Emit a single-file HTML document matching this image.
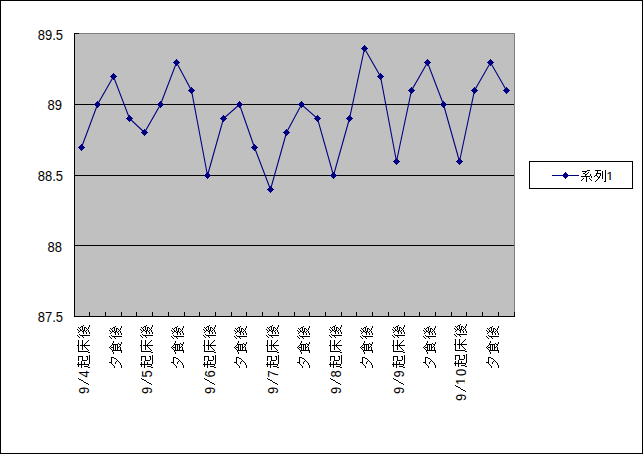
<!DOCTYPE html>
<html><head><meta charset="utf-8"><title>chart</title>
<style>
html,body{margin:0;padding:0;background:#fff;width:643px;height:454px;overflow:hidden}
svg{display:block}
.t{font-family:"Liberation Sans",sans-serif;font-size:13px;fill:#000}
</style></head><body>
<svg width="643" height="454" viewBox="0 0 643 454" shape-rendering="crispEdges">
<defs><clipPath id="nb"><rect x="-10" y="-14" width="20" height="12.9"/></clipPath><clipPath id="nb2"><rect x="600" y="160" width="20" height="19.9"/></clipPath></defs>
<rect x="0" y="0" width="643" height="454" fill="#fff"/>
<path d="M0 0h643v1H0zM0 453h643v1H0zM0 0h1v454H0zM642 0h1v454h-1z" fill="#000"/>
<rect x="75" y="34" width="439" height="282" fill="#c0c0c0"/>
<path d="M74 33h441v1H74zM514 33h1v284h-1z" fill="#808080"/>
<path d="M74 33h1v284h-1zM74 316h441v1H74zM74 33h5v1h-5zM75 104h439v1H75zM75 175h439v1H75zM75 245h439v1H75zM89 312h1v4h-1zM105 312h1v4h-1zM121 312h1v4h-1zM136 312h1v4h-1zM152 312h1v4h-1zM168 312h1v4h-1zM184 312h1v4h-1zM199 312h1v4h-1zM215 312h1v4h-1zM231 312h1v4h-1zM246 312h1v4h-1zM262 312h1v4h-1zM278 312h1v4h-1zM294 312h1v4h-1zM309 312h1v4h-1zM325 312h1v4h-1zM341 312h1v4h-1zM356 312h1v4h-1zM372 312h1v4h-1zM388 312h1v4h-1zM404 312h1v4h-1zM419 312h1v4h-1zM435 312h1v4h-1zM451 312h1v4h-1zM466 312h1v4h-1zM482 312h1v4h-1zM498 312h1v4h-1zM514 312h1v4h-1z" fill="#000"/>
<polyline fill="none" stroke="#000080" stroke-width="1.1" shape-rendering="geometricPrecision" points="81.5,147.5 97.5,104.5 113.5,76.5 129.5,118.5 144.5,132.5 160.5,104.5 176.5,62.5 191.5,90.5 207.5,175.5 223.5,118.5 239.5,104.5 254.5,147.5 270.5,189.5 286.5,132.5 301.5,104.5 317.5,118.5 333.5,175.5 349.5,118.5 364.5,48.5 380.5,76.5 396.5,161.5 411.5,90.5 427.5,62.5 443.5,104.5 459.5,161.5 474.5,90.5 490.5,62.5 506.5,90.5"/>
<path d="M81 144h1v1h-1zM80 145h3v1h-3zM79 146h5v1h-5zM78 147h7v1h-7zM79 148h5v1h-5zM80 149h3v1h-3zM81 150h1v1h-1zM97 101h1v1h-1zM96 102h3v1h-3zM95 103h5v1h-5zM94 104h7v1h-7zM95 105h5v1h-5zM96 106h3v1h-3zM97 107h1v1h-1zM113 73h1v1h-1zM112 74h3v1h-3zM111 75h5v1h-5zM110 76h7v1h-7zM111 77h5v1h-5zM112 78h3v1h-3zM113 79h1v1h-1zM129 115h1v1h-1zM128 116h3v1h-3zM127 117h5v1h-5zM126 118h7v1h-7zM127 119h5v1h-5zM128 120h3v1h-3zM129 121h1v1h-1zM144 129h1v1h-1zM143 130h3v1h-3zM142 131h5v1h-5zM141 132h7v1h-7zM142 133h5v1h-5zM143 134h3v1h-3zM144 135h1v1h-1zM160 101h1v1h-1zM159 102h3v1h-3zM158 103h5v1h-5zM157 104h7v1h-7zM158 105h5v1h-5zM159 106h3v1h-3zM160 107h1v1h-1zM176 59h1v1h-1zM175 60h3v1h-3zM174 61h5v1h-5zM173 62h7v1h-7zM174 63h5v1h-5zM175 64h3v1h-3zM176 65h1v1h-1zM191 87h1v1h-1zM190 88h3v1h-3zM189 89h5v1h-5zM188 90h7v1h-7zM189 91h5v1h-5zM190 92h3v1h-3zM191 93h1v1h-1zM207 172h1v1h-1zM206 173h3v1h-3zM205 174h5v1h-5zM204 175h7v1h-7zM205 176h5v1h-5zM206 177h3v1h-3zM207 178h1v1h-1zM223 115h1v1h-1zM222 116h3v1h-3zM221 117h5v1h-5zM220 118h7v1h-7zM221 119h5v1h-5zM222 120h3v1h-3zM223 121h1v1h-1zM239 101h1v1h-1zM238 102h3v1h-3zM237 103h5v1h-5zM236 104h7v1h-7zM237 105h5v1h-5zM238 106h3v1h-3zM239 107h1v1h-1zM254 144h1v1h-1zM253 145h3v1h-3zM252 146h5v1h-5zM251 147h7v1h-7zM252 148h5v1h-5zM253 149h3v1h-3zM254 150h1v1h-1zM270 186h1v1h-1zM269 187h3v1h-3zM268 188h5v1h-5zM267 189h7v1h-7zM268 190h5v1h-5zM269 191h3v1h-3zM270 192h1v1h-1zM286 129h1v1h-1zM285 130h3v1h-3zM284 131h5v1h-5zM283 132h7v1h-7zM284 133h5v1h-5zM285 134h3v1h-3zM286 135h1v1h-1zM301 101h1v1h-1zM300 102h3v1h-3zM299 103h5v1h-5zM298 104h7v1h-7zM299 105h5v1h-5zM300 106h3v1h-3zM301 107h1v1h-1zM317 115h1v1h-1zM316 116h3v1h-3zM315 117h5v1h-5zM314 118h7v1h-7zM315 119h5v1h-5zM316 120h3v1h-3zM317 121h1v1h-1zM333 172h1v1h-1zM332 173h3v1h-3zM331 174h5v1h-5zM330 175h7v1h-7zM331 176h5v1h-5zM332 177h3v1h-3zM333 178h1v1h-1zM349 115h1v1h-1zM348 116h3v1h-3zM347 117h5v1h-5zM346 118h7v1h-7zM347 119h5v1h-5zM348 120h3v1h-3zM349 121h1v1h-1zM364 45h1v1h-1zM363 46h3v1h-3zM362 47h5v1h-5zM361 48h7v1h-7zM362 49h5v1h-5zM363 50h3v1h-3zM364 51h1v1h-1zM380 73h1v1h-1zM379 74h3v1h-3zM378 75h5v1h-5zM377 76h7v1h-7zM378 77h5v1h-5zM379 78h3v1h-3zM380 79h1v1h-1zM396 158h1v1h-1zM395 159h3v1h-3zM394 160h5v1h-5zM393 161h7v1h-7zM394 162h5v1h-5zM395 163h3v1h-3zM396 164h1v1h-1zM411 87h1v1h-1zM410 88h3v1h-3zM409 89h5v1h-5zM408 90h7v1h-7zM409 91h5v1h-5zM410 92h3v1h-3zM411 93h1v1h-1zM427 59h1v1h-1zM426 60h3v1h-3zM425 61h5v1h-5zM424 62h7v1h-7zM425 63h5v1h-5zM426 64h3v1h-3zM427 65h1v1h-1zM443 101h1v1h-1zM442 102h3v1h-3zM441 103h5v1h-5zM440 104h7v1h-7zM441 105h5v1h-5zM442 106h3v1h-3zM443 107h1v1h-1zM459 158h1v1h-1zM458 159h3v1h-3zM457 160h5v1h-5zM456 161h7v1h-7zM457 162h5v1h-5zM458 163h3v1h-3zM459 164h1v1h-1zM474 87h1v1h-1zM473 88h3v1h-3zM472 89h5v1h-5zM471 90h7v1h-7zM472 91h5v1h-5zM473 92h3v1h-3zM474 93h1v1h-1zM490 59h1v1h-1zM489 60h3v1h-3zM488 61h5v1h-5zM487 62h7v1h-7zM488 63h5v1h-5zM489 64h3v1h-3zM490 65h1v1h-1zM506 87h1v1h-1zM505 88h3v1h-3zM504 89h5v1h-5zM503 90h7v1h-7zM504 91h5v1h-5zM505 92h3v1h-3zM506 93h1v1h-1z" fill="#000080"/>
<text transform="translate(63,40) scale(1,1.1)" text-anchor="end" class="t">89.5</text>
<text transform="translate(62,110) scale(1,1.1)" text-anchor="end" class="t">89</text>
<text transform="translate(63,181) scale(1,1.1)" text-anchor="end" class="t">88.5</text>
<text transform="translate(62,252) scale(1,1.1)" text-anchor="end" class="t">88</text>
<text transform="translate(63,322) scale(1,1.1)" text-anchor="end" class="t">87.5</text>
<rect x="530" y="162" width="102" height="26" fill="#fff"/>
<path d="M529 161h104v1h-104zM529 188h104v1h-104zM529 161h1v28h-1zM632 161h1v28h-1z" fill="#000"/>
<path d="M552 175h27v1h-27zM565 172h1v1h-1zM564 173h3v1h-3zM563 174h5v1h-5zM562 175h7v1h-7zM563 176h5v1h-5zM564 177h3v1h-3zM565 178h1v1h-1z" fill="#000080"/>
<g role="img" aria-label="系列1"><path d="M587 170h3v1h-3zM582 171h5v1h-5zM585 172h1v1h-1zM588 172h1v1h-1zM583 173h2v1h-2zM587 173h1v1h-1zM585 174h2v1h-2zM590 174h1v1h-1zM585 175h1v1h-1zM590 175h1v1h-1zM581 176h9v1h-9zM591 176h1v1h-1zM586 177h1v1h-1zM591 177h1v1h-1zM583 178h1v1h-1zM586 178h1v1h-1zM589 178h1v1h-1zM582 179h1v1h-1zM586 179h1v1h-1zM590 179h1v1h-1zM581 180h1v1h-1zM586 180h1v1h-1zM591 180h1v1h-1zM586 181h1v1h-1zM595 170h6v1h-6zM605 170h1v1h-1zM597 171h1v1h-1zM602 171h1v1h-1zM605 171h1v1h-1zM597 172h1v1h-1zM602 172h1v1h-1zM605 172h1v1h-1zM596 173h5v1h-5zM602 173h1v1h-1zM605 173h1v1h-1zM596 174h1v1h-1zM600 174h1v1h-1zM602 174h1v1h-1zM605 174h1v1h-1zM595 175h2v1h-2zM600 175h1v1h-1zM602 175h1v1h-1zM605 175h1v1h-1zM594 176h1v1h-1zM597 176h1v1h-1zM599 176h1v1h-1zM602 176h1v1h-1zM605 176h1v1h-1zM598 177h2v1h-2zM602 177h1v1h-1zM605 177h1v1h-1zM598 178h1v1h-1zM602 178h1v1h-1zM605 178h1v1h-1zM597 179h1v1h-1zM605 179h1v1h-1zM596 180h1v1h-1zM605 180h1v1h-1zM595 181h1v1h-1zM604 181h2v1h-2z" fill="#000"/><text x="606.3" y="181" class="t" clip-path="url(#nb2)">1</text></g>
<g role="img" aria-label="9/4起床後"><path d="M89 355h1v1h-1zM78 356h5v1h-5zM86 356h2v1h-2zM89 356h1v1h-1zM78 357h1v1h-1zM82 357h1v1h-1zM87 357h1v1h-1zM89 357h1v1h-1zM78 358h1v1h-1zM82 358h1v1h-1zM87 358h1v1h-1zM89 358h1v1h-1zM78 359h1v1h-1zM82 359h1v1h-1zM87 359h1v1h-1zM89 359h1v1h-1zM78 360h1v1h-1zM82 360h5v1h-5zM89 360h1v1h-1zM81 361h1v1h-1zM89 361h1v1h-1zM78 362h1v1h-1zM81 362h1v1h-1zM84 362h1v1h-1zM89 362h1v1h-1zM78 363h1v1h-1zM81 363h1v1h-1zM84 363h1v1h-1zM89 363h1v1h-1zM77 364h12v1h-12zM78 365h1v1h-1zM81 365h1v1h-1zM88 365h1v1h-1zM78 366h1v1h-1zM81 366h1v1h-1zM84 366h4v1h-4zM81 367h1v1h-1zM88 367h2v1h-2zM78 340h1v1h-1zM82 340h1v1h-1zM88 340h1v1h-1zM78 341h1v1h-1zM82 341h1v1h-1zM87 341h1v1h-1zM78 342h1v1h-1zM82 342h1v1h-1zM86 342h1v1h-1zM78 343h1v1h-1zM82 343h1v1h-1zM85 343h1v1h-1zM78 344h1v1h-1zM82 344h1v1h-1zM84 344h1v1h-1zM77 345h2v1h-2zM80 345h10v1h-10zM78 346h1v1h-1zM82 346h1v1h-1zM84 346h1v1h-1zM78 347h1v1h-1zM82 347h1v1h-1zM85 347h1v1h-1zM78 348h1v1h-1zM82 348h1v1h-1zM86 348h1v1h-1zM78 349h1v1h-1zM82 349h1v1h-1zM87 349h1v1h-1zM78 350h1v1h-1zM88 350h1v1h-1zM78 351h10v1h-10zM88 352h2v1h-2zM83 325h1v1h-1zM89 325h1v1h-1zM81 326h2v1h-2zM89 326h1v1h-1zM78 327h1v1h-1zM80 327h1v1h-1zM82 327h1v1h-1zM84 327h2v1h-2zM88 327h1v1h-1zM79 328h1v1h-1zM82 328h1v1h-1zM84 328h1v1h-1zM86 328h1v1h-1zM88 328h1v1h-1zM77 329h1v1h-1zM80 329h1v1h-1zM82 329h1v1h-1zM84 329h1v1h-1zM87 329h1v1h-1zM78 330h1v1h-1zM80 330h2v1h-2zM83 330h2v1h-2zM86 330h1v1h-1zM88 330h1v1h-1zM79 331h1v1h-1zM82 331h2v1h-2zM85 331h1v1h-1zM88 331h1v1h-1zM78 332h1v1h-1zM83 332h1v1h-1zM86 332h1v1h-1zM89 332h1v1h-1zM83 333h1v1h-1zM86 333h1v1h-1zM89 333h1v1h-1zM79 334h1v1h-1zM77 335h1v1h-1zM80 335h10v1h-10zM78 336h1v1h-1zM82 336h1v1h-1zM79 337h1v1h-1zM83 337h1v1h-1zM78 378h1v1h-1zM79 379h2v1h-2zM81 380h2v1h-2zM83 381h1v1h-1zM84 382h2v1h-2zM86 383h2v1h-2zM88 384h1v1h-1z" fill="#000"/><text transform="translate(89,390.5) rotate(-90) scale(1,1.1)" text-anchor="middle" class="t">9</text><text transform="translate(89,374.0) rotate(-90) scale(1,1.1)" text-anchor="middle" class="t">4</text></g>
<g role="img" aria-label="夕食後"><path d="M111 357h3v1h-3zM111 358h1v1h-1zM114 358h2v1h-2zM111 359h1v1h-1zM116 359h1v1h-1zM111 360h1v1h-1zM117 360h1v1h-1zM111 361h1v1h-1zM116 361h1v1h-1zM118 361h1v1h-1zM109 362h3v1h-3zM115 362h1v1h-1zM119 362h1v1h-1zM111 363h1v1h-1zM115 363h1v1h-1zM120 363h1v1h-1zM112 364h1v1h-1zM120 364h1v1h-1zM113 365h1v1h-1zM121 365h1v1h-1zM114 366h1v1h-1zM121 366h1v1h-1zM114 367h1v1h-1zM121 367h1v1h-1zM113 341h1v1h-1zM113 342h1v1h-1zM121 342h1v1h-1zM112 343h1v1h-1zM118 343h1v1h-1zM121 343h1v1h-1zM112 344h6v1h-6zM119 344h2v1h-2zM111 345h1v1h-1zM113 345h1v1h-1zM115 345h1v1h-1zM117 345h1v1h-1zM120 345h1v1h-1zM110 346h1v1h-1zM113 346h1v1h-1zM115 346h1v1h-1zM117 346h1v1h-1zM119 346h1v1h-1zM109 347h1v1h-1zM111 347h3v1h-3zM115 347h1v1h-1zM117 347h2v1h-2zM120 347h1v1h-1zM110 348h1v1h-1zM113 348h1v1h-1zM115 348h1v1h-1zM117 348h1v1h-1zM120 348h1v1h-1zM111 349h1v1h-1zM113 349h1v1h-1zM115 349h1v1h-1zM117 349h1v1h-1zM120 349h1v1h-1zM112 350h10v1h-10zM112 351h1v1h-1zM121 351h1v1h-1zM113 352h1v1h-1zM121 352h1v1h-1zM113 353h1v1h-1zM115 326h1v1h-1zM121 326h1v1h-1zM113 327h2v1h-2zM121 327h1v1h-1zM110 328h1v1h-1zM112 328h1v1h-1zM114 328h1v1h-1zM116 328h2v1h-2zM120 328h1v1h-1zM111 329h1v1h-1zM114 329h1v1h-1zM116 329h1v1h-1zM118 329h1v1h-1zM120 329h1v1h-1zM109 330h1v1h-1zM112 330h1v1h-1zM114 330h1v1h-1zM116 330h1v1h-1zM119 330h1v1h-1zM110 331h1v1h-1zM112 331h2v1h-2zM115 331h2v1h-2zM118 331h1v1h-1zM120 331h1v1h-1zM111 332h1v1h-1zM114 332h2v1h-2zM117 332h1v1h-1zM120 332h1v1h-1zM110 333h1v1h-1zM115 333h1v1h-1zM118 333h1v1h-1zM121 333h1v1h-1zM115 334h1v1h-1zM118 334h1v1h-1zM121 334h1v1h-1zM111 335h1v1h-1zM109 336h1v1h-1zM112 336h10v1h-10zM110 337h1v1h-1zM114 337h1v1h-1zM111 338h1v1h-1zM115 338h1v1h-1z" fill="#000"/></g>
<g role="img" aria-label="9/5起床後"><path d="M152 355h1v1h-1zM141 356h5v1h-5zM149 356h2v1h-2zM152 356h1v1h-1zM141 357h1v1h-1zM145 357h1v1h-1zM150 357h1v1h-1zM152 357h1v1h-1zM141 358h1v1h-1zM145 358h1v1h-1zM150 358h1v1h-1zM152 358h1v1h-1zM141 359h1v1h-1zM145 359h1v1h-1zM150 359h1v1h-1zM152 359h1v1h-1zM141 360h1v1h-1zM145 360h5v1h-5zM152 360h1v1h-1zM144 361h1v1h-1zM152 361h1v1h-1zM141 362h1v1h-1zM144 362h1v1h-1zM147 362h1v1h-1zM152 362h1v1h-1zM141 363h1v1h-1zM144 363h1v1h-1zM147 363h1v1h-1zM152 363h1v1h-1zM140 364h12v1h-12zM141 365h1v1h-1zM144 365h1v1h-1zM151 365h1v1h-1zM141 366h1v1h-1zM144 366h1v1h-1zM147 366h4v1h-4zM144 367h1v1h-1zM151 367h2v1h-2zM141 340h1v1h-1zM145 340h1v1h-1zM151 340h1v1h-1zM141 341h1v1h-1zM145 341h1v1h-1zM150 341h1v1h-1zM141 342h1v1h-1zM145 342h1v1h-1zM149 342h1v1h-1zM141 343h1v1h-1zM145 343h1v1h-1zM148 343h1v1h-1zM141 344h1v1h-1zM145 344h1v1h-1zM147 344h1v1h-1zM140 345h2v1h-2zM143 345h10v1h-10zM141 346h1v1h-1zM145 346h1v1h-1zM147 346h1v1h-1zM141 347h1v1h-1zM145 347h1v1h-1zM148 347h1v1h-1zM141 348h1v1h-1zM145 348h1v1h-1zM149 348h1v1h-1zM141 349h1v1h-1zM145 349h1v1h-1zM150 349h1v1h-1zM141 350h1v1h-1zM151 350h1v1h-1zM141 351h10v1h-10zM151 352h2v1h-2zM146 325h1v1h-1zM152 325h1v1h-1zM144 326h2v1h-2zM152 326h1v1h-1zM141 327h1v1h-1zM143 327h1v1h-1zM145 327h1v1h-1zM147 327h2v1h-2zM151 327h1v1h-1zM142 328h1v1h-1zM145 328h1v1h-1zM147 328h1v1h-1zM149 328h1v1h-1zM151 328h1v1h-1zM140 329h1v1h-1zM143 329h1v1h-1zM145 329h1v1h-1zM147 329h1v1h-1zM150 329h1v1h-1zM141 330h1v1h-1zM143 330h2v1h-2zM146 330h2v1h-2zM149 330h1v1h-1zM151 330h1v1h-1zM142 331h1v1h-1zM145 331h2v1h-2zM148 331h1v1h-1zM151 331h1v1h-1zM141 332h1v1h-1zM146 332h1v1h-1zM149 332h1v1h-1zM152 332h1v1h-1zM146 333h1v1h-1zM149 333h1v1h-1zM152 333h1v1h-1zM142 334h1v1h-1zM140 335h1v1h-1zM143 335h10v1h-10zM141 336h1v1h-1zM145 336h1v1h-1zM142 337h1v1h-1zM146 337h1v1h-1zM141 378h1v1h-1zM142 379h2v1h-2zM144 380h2v1h-2zM146 381h1v1h-1zM147 382h2v1h-2zM149 383h2v1h-2zM151 384h1v1h-1z" fill="#000"/><text transform="translate(152,390.5) rotate(-90) scale(1,1.1)" text-anchor="middle" class="t">9</text><text transform="translate(152,374.0) rotate(-90) scale(1,1.1)" text-anchor="middle" class="t">5</text></g>
<g role="img" aria-label="夕食後"><path d="M173 357h3v1h-3zM173 358h1v1h-1zM176 358h2v1h-2zM173 359h1v1h-1zM178 359h1v1h-1zM173 360h1v1h-1zM179 360h1v1h-1zM173 361h1v1h-1zM178 361h1v1h-1zM180 361h1v1h-1zM171 362h3v1h-3zM177 362h1v1h-1zM181 362h1v1h-1zM173 363h1v1h-1zM177 363h1v1h-1zM182 363h1v1h-1zM174 364h1v1h-1zM182 364h1v1h-1zM175 365h1v1h-1zM183 365h1v1h-1zM176 366h1v1h-1zM183 366h1v1h-1zM176 367h1v1h-1zM183 367h1v1h-1zM175 341h1v1h-1zM175 342h1v1h-1zM183 342h1v1h-1zM174 343h1v1h-1zM180 343h1v1h-1zM183 343h1v1h-1zM174 344h6v1h-6zM181 344h2v1h-2zM173 345h1v1h-1zM175 345h1v1h-1zM177 345h1v1h-1zM179 345h1v1h-1zM182 345h1v1h-1zM172 346h1v1h-1zM175 346h1v1h-1zM177 346h1v1h-1zM179 346h1v1h-1zM181 346h1v1h-1zM171 347h1v1h-1zM173 347h3v1h-3zM177 347h1v1h-1zM179 347h2v1h-2zM182 347h1v1h-1zM172 348h1v1h-1zM175 348h1v1h-1zM177 348h1v1h-1zM179 348h1v1h-1zM182 348h1v1h-1zM173 349h1v1h-1zM175 349h1v1h-1zM177 349h1v1h-1zM179 349h1v1h-1zM182 349h1v1h-1zM174 350h10v1h-10zM174 351h1v1h-1zM183 351h1v1h-1zM175 352h1v1h-1zM183 352h1v1h-1zM175 353h1v1h-1zM177 326h1v1h-1zM183 326h1v1h-1zM175 327h2v1h-2zM183 327h1v1h-1zM172 328h1v1h-1zM174 328h1v1h-1zM176 328h1v1h-1zM178 328h2v1h-2zM182 328h1v1h-1zM173 329h1v1h-1zM176 329h1v1h-1zM178 329h1v1h-1zM180 329h1v1h-1zM182 329h1v1h-1zM171 330h1v1h-1zM174 330h1v1h-1zM176 330h1v1h-1zM178 330h1v1h-1zM181 330h1v1h-1zM172 331h1v1h-1zM174 331h2v1h-2zM177 331h2v1h-2zM180 331h1v1h-1zM182 331h1v1h-1zM173 332h1v1h-1zM176 332h2v1h-2zM179 332h1v1h-1zM182 332h1v1h-1zM172 333h1v1h-1zM177 333h1v1h-1zM180 333h1v1h-1zM183 333h1v1h-1zM177 334h1v1h-1zM180 334h1v1h-1zM183 334h1v1h-1zM173 335h1v1h-1zM171 336h1v1h-1zM174 336h10v1h-10zM172 337h1v1h-1zM176 337h1v1h-1zM173 338h1v1h-1zM177 338h1v1h-1z" fill="#000"/></g>
<g role="img" aria-label="9/6起床後"><path d="M215 355h1v1h-1zM204 356h5v1h-5zM212 356h2v1h-2zM215 356h1v1h-1zM204 357h1v1h-1zM208 357h1v1h-1zM213 357h1v1h-1zM215 357h1v1h-1zM204 358h1v1h-1zM208 358h1v1h-1zM213 358h1v1h-1zM215 358h1v1h-1zM204 359h1v1h-1zM208 359h1v1h-1zM213 359h1v1h-1zM215 359h1v1h-1zM204 360h1v1h-1zM208 360h5v1h-5zM215 360h1v1h-1zM207 361h1v1h-1zM215 361h1v1h-1zM204 362h1v1h-1zM207 362h1v1h-1zM210 362h1v1h-1zM215 362h1v1h-1zM204 363h1v1h-1zM207 363h1v1h-1zM210 363h1v1h-1zM215 363h1v1h-1zM203 364h12v1h-12zM204 365h1v1h-1zM207 365h1v1h-1zM214 365h1v1h-1zM204 366h1v1h-1zM207 366h1v1h-1zM210 366h4v1h-4zM207 367h1v1h-1zM214 367h2v1h-2zM204 340h1v1h-1zM208 340h1v1h-1zM214 340h1v1h-1zM204 341h1v1h-1zM208 341h1v1h-1zM213 341h1v1h-1zM204 342h1v1h-1zM208 342h1v1h-1zM212 342h1v1h-1zM204 343h1v1h-1zM208 343h1v1h-1zM211 343h1v1h-1zM204 344h1v1h-1zM208 344h1v1h-1zM210 344h1v1h-1zM203 345h2v1h-2zM206 345h10v1h-10zM204 346h1v1h-1zM208 346h1v1h-1zM210 346h1v1h-1zM204 347h1v1h-1zM208 347h1v1h-1zM211 347h1v1h-1zM204 348h1v1h-1zM208 348h1v1h-1zM212 348h1v1h-1zM204 349h1v1h-1zM208 349h1v1h-1zM213 349h1v1h-1zM204 350h1v1h-1zM214 350h1v1h-1zM204 351h10v1h-10zM214 352h2v1h-2zM209 325h1v1h-1zM215 325h1v1h-1zM207 326h2v1h-2zM215 326h1v1h-1zM204 327h1v1h-1zM206 327h1v1h-1zM208 327h1v1h-1zM210 327h2v1h-2zM214 327h1v1h-1zM205 328h1v1h-1zM208 328h1v1h-1zM210 328h1v1h-1zM212 328h1v1h-1zM214 328h1v1h-1zM203 329h1v1h-1zM206 329h1v1h-1zM208 329h1v1h-1zM210 329h1v1h-1zM213 329h1v1h-1zM204 330h1v1h-1zM206 330h2v1h-2zM209 330h2v1h-2zM212 330h1v1h-1zM214 330h1v1h-1zM205 331h1v1h-1zM208 331h2v1h-2zM211 331h1v1h-1zM214 331h1v1h-1zM204 332h1v1h-1zM209 332h1v1h-1zM212 332h1v1h-1zM215 332h1v1h-1zM209 333h1v1h-1zM212 333h1v1h-1zM215 333h1v1h-1zM205 334h1v1h-1zM203 335h1v1h-1zM206 335h10v1h-10zM204 336h1v1h-1zM208 336h1v1h-1zM205 337h1v1h-1zM209 337h1v1h-1zM204 378h1v1h-1zM205 379h2v1h-2zM207 380h2v1h-2zM209 381h1v1h-1zM210 382h2v1h-2zM212 383h2v1h-2zM214 384h1v1h-1z" fill="#000"/><text transform="translate(215,390.5) rotate(-90) scale(1,1.1)" text-anchor="middle" class="t">9</text><text transform="translate(215,374.0) rotate(-90) scale(1,1.1)" text-anchor="middle" class="t">6</text></g>
<g role="img" aria-label="夕食後"><path d="M236 357h3v1h-3zM236 358h1v1h-1zM239 358h2v1h-2zM236 359h1v1h-1zM241 359h1v1h-1zM236 360h1v1h-1zM242 360h1v1h-1zM236 361h1v1h-1zM241 361h1v1h-1zM243 361h1v1h-1zM234 362h3v1h-3zM240 362h1v1h-1zM244 362h1v1h-1zM236 363h1v1h-1zM240 363h1v1h-1zM245 363h1v1h-1zM237 364h1v1h-1zM245 364h1v1h-1zM238 365h1v1h-1zM246 365h1v1h-1zM239 366h1v1h-1zM246 366h1v1h-1zM239 367h1v1h-1zM246 367h1v1h-1zM238 341h1v1h-1zM238 342h1v1h-1zM246 342h1v1h-1zM237 343h1v1h-1zM243 343h1v1h-1zM246 343h1v1h-1zM237 344h6v1h-6zM244 344h2v1h-2zM236 345h1v1h-1zM238 345h1v1h-1zM240 345h1v1h-1zM242 345h1v1h-1zM245 345h1v1h-1zM235 346h1v1h-1zM238 346h1v1h-1zM240 346h1v1h-1zM242 346h1v1h-1zM244 346h1v1h-1zM234 347h1v1h-1zM236 347h3v1h-3zM240 347h1v1h-1zM242 347h2v1h-2zM245 347h1v1h-1zM235 348h1v1h-1zM238 348h1v1h-1zM240 348h1v1h-1zM242 348h1v1h-1zM245 348h1v1h-1zM236 349h1v1h-1zM238 349h1v1h-1zM240 349h1v1h-1zM242 349h1v1h-1zM245 349h1v1h-1zM237 350h10v1h-10zM237 351h1v1h-1zM246 351h1v1h-1zM238 352h1v1h-1zM246 352h1v1h-1zM238 353h1v1h-1zM240 326h1v1h-1zM246 326h1v1h-1zM238 327h2v1h-2zM246 327h1v1h-1zM235 328h1v1h-1zM237 328h1v1h-1zM239 328h1v1h-1zM241 328h2v1h-2zM245 328h1v1h-1zM236 329h1v1h-1zM239 329h1v1h-1zM241 329h1v1h-1zM243 329h1v1h-1zM245 329h1v1h-1zM234 330h1v1h-1zM237 330h1v1h-1zM239 330h1v1h-1zM241 330h1v1h-1zM244 330h1v1h-1zM235 331h1v1h-1zM237 331h2v1h-2zM240 331h2v1h-2zM243 331h1v1h-1zM245 331h1v1h-1zM236 332h1v1h-1zM239 332h2v1h-2zM242 332h1v1h-1zM245 332h1v1h-1zM235 333h1v1h-1zM240 333h1v1h-1zM243 333h1v1h-1zM246 333h1v1h-1zM240 334h1v1h-1zM243 334h1v1h-1zM246 334h1v1h-1zM236 335h1v1h-1zM234 336h1v1h-1zM237 336h10v1h-10zM235 337h1v1h-1zM239 337h1v1h-1zM236 338h1v1h-1zM240 338h1v1h-1z" fill="#000"/></g>
<g role="img" aria-label="9/7起床後"><path d="M278 355h1v1h-1zM267 356h5v1h-5zM275 356h2v1h-2zM278 356h1v1h-1zM267 357h1v1h-1zM271 357h1v1h-1zM276 357h1v1h-1zM278 357h1v1h-1zM267 358h1v1h-1zM271 358h1v1h-1zM276 358h1v1h-1zM278 358h1v1h-1zM267 359h1v1h-1zM271 359h1v1h-1zM276 359h1v1h-1zM278 359h1v1h-1zM267 360h1v1h-1zM271 360h5v1h-5zM278 360h1v1h-1zM270 361h1v1h-1zM278 361h1v1h-1zM267 362h1v1h-1zM270 362h1v1h-1zM273 362h1v1h-1zM278 362h1v1h-1zM267 363h1v1h-1zM270 363h1v1h-1zM273 363h1v1h-1zM278 363h1v1h-1zM266 364h12v1h-12zM267 365h1v1h-1zM270 365h1v1h-1zM277 365h1v1h-1zM267 366h1v1h-1zM270 366h1v1h-1zM273 366h4v1h-4zM270 367h1v1h-1zM277 367h2v1h-2zM267 340h1v1h-1zM271 340h1v1h-1zM277 340h1v1h-1zM267 341h1v1h-1zM271 341h1v1h-1zM276 341h1v1h-1zM267 342h1v1h-1zM271 342h1v1h-1zM275 342h1v1h-1zM267 343h1v1h-1zM271 343h1v1h-1zM274 343h1v1h-1zM267 344h1v1h-1zM271 344h1v1h-1zM273 344h1v1h-1zM266 345h2v1h-2zM269 345h10v1h-10zM267 346h1v1h-1zM271 346h1v1h-1zM273 346h1v1h-1zM267 347h1v1h-1zM271 347h1v1h-1zM274 347h1v1h-1zM267 348h1v1h-1zM271 348h1v1h-1zM275 348h1v1h-1zM267 349h1v1h-1zM271 349h1v1h-1zM276 349h1v1h-1zM267 350h1v1h-1zM277 350h1v1h-1zM267 351h10v1h-10zM277 352h2v1h-2zM272 325h1v1h-1zM278 325h1v1h-1zM270 326h2v1h-2zM278 326h1v1h-1zM267 327h1v1h-1zM269 327h1v1h-1zM271 327h1v1h-1zM273 327h2v1h-2zM277 327h1v1h-1zM268 328h1v1h-1zM271 328h1v1h-1zM273 328h1v1h-1zM275 328h1v1h-1zM277 328h1v1h-1zM266 329h1v1h-1zM269 329h1v1h-1zM271 329h1v1h-1zM273 329h1v1h-1zM276 329h1v1h-1zM267 330h1v1h-1zM269 330h2v1h-2zM272 330h2v1h-2zM275 330h1v1h-1zM277 330h1v1h-1zM268 331h1v1h-1zM271 331h2v1h-2zM274 331h1v1h-1zM277 331h1v1h-1zM267 332h1v1h-1zM272 332h1v1h-1zM275 332h1v1h-1zM278 332h1v1h-1zM272 333h1v1h-1zM275 333h1v1h-1zM278 333h1v1h-1zM268 334h1v1h-1zM266 335h1v1h-1zM269 335h10v1h-10zM267 336h1v1h-1zM271 336h1v1h-1zM268 337h1v1h-1zM272 337h1v1h-1zM267 378h1v1h-1zM268 379h2v1h-2zM270 380h2v1h-2zM272 381h1v1h-1zM273 382h2v1h-2zM275 383h2v1h-2zM277 384h1v1h-1z" fill="#000"/><text transform="translate(278,390.5) rotate(-90) scale(1,1.1)" text-anchor="middle" class="t">9</text><text transform="translate(278,374.0) rotate(-90) scale(1,1.1)" text-anchor="middle" class="t">7</text></g>
<g role="img" aria-label="夕食後"><path d="M299 357h3v1h-3zM299 358h1v1h-1zM302 358h2v1h-2zM299 359h1v1h-1zM304 359h1v1h-1zM299 360h1v1h-1zM305 360h1v1h-1zM299 361h1v1h-1zM304 361h1v1h-1zM306 361h1v1h-1zM297 362h3v1h-3zM303 362h1v1h-1zM307 362h1v1h-1zM299 363h1v1h-1zM303 363h1v1h-1zM308 363h1v1h-1zM300 364h1v1h-1zM308 364h1v1h-1zM301 365h1v1h-1zM309 365h1v1h-1zM302 366h1v1h-1zM309 366h1v1h-1zM302 367h1v1h-1zM309 367h1v1h-1zM301 341h1v1h-1zM301 342h1v1h-1zM309 342h1v1h-1zM300 343h1v1h-1zM306 343h1v1h-1zM309 343h1v1h-1zM300 344h6v1h-6zM307 344h2v1h-2zM299 345h1v1h-1zM301 345h1v1h-1zM303 345h1v1h-1zM305 345h1v1h-1zM308 345h1v1h-1zM298 346h1v1h-1zM301 346h1v1h-1zM303 346h1v1h-1zM305 346h1v1h-1zM307 346h1v1h-1zM297 347h1v1h-1zM299 347h3v1h-3zM303 347h1v1h-1zM305 347h2v1h-2zM308 347h1v1h-1zM298 348h1v1h-1zM301 348h1v1h-1zM303 348h1v1h-1zM305 348h1v1h-1zM308 348h1v1h-1zM299 349h1v1h-1zM301 349h1v1h-1zM303 349h1v1h-1zM305 349h1v1h-1zM308 349h1v1h-1zM300 350h10v1h-10zM300 351h1v1h-1zM309 351h1v1h-1zM301 352h1v1h-1zM309 352h1v1h-1zM301 353h1v1h-1zM303 326h1v1h-1zM309 326h1v1h-1zM301 327h2v1h-2zM309 327h1v1h-1zM298 328h1v1h-1zM300 328h1v1h-1zM302 328h1v1h-1zM304 328h2v1h-2zM308 328h1v1h-1zM299 329h1v1h-1zM302 329h1v1h-1zM304 329h1v1h-1zM306 329h1v1h-1zM308 329h1v1h-1zM297 330h1v1h-1zM300 330h1v1h-1zM302 330h1v1h-1zM304 330h1v1h-1zM307 330h1v1h-1zM298 331h1v1h-1zM300 331h2v1h-2zM303 331h2v1h-2zM306 331h1v1h-1zM308 331h1v1h-1zM299 332h1v1h-1zM302 332h2v1h-2zM305 332h1v1h-1zM308 332h1v1h-1zM298 333h1v1h-1zM303 333h1v1h-1zM306 333h1v1h-1zM309 333h1v1h-1zM303 334h1v1h-1zM306 334h1v1h-1zM309 334h1v1h-1zM299 335h1v1h-1zM297 336h1v1h-1zM300 336h10v1h-10zM298 337h1v1h-1zM302 337h1v1h-1zM299 338h1v1h-1zM303 338h1v1h-1z" fill="#000"/></g>
<g role="img" aria-label="9/8起床後"><path d="M341 355h1v1h-1zM330 356h5v1h-5zM338 356h2v1h-2zM341 356h1v1h-1zM330 357h1v1h-1zM334 357h1v1h-1zM339 357h1v1h-1zM341 357h1v1h-1zM330 358h1v1h-1zM334 358h1v1h-1zM339 358h1v1h-1zM341 358h1v1h-1zM330 359h1v1h-1zM334 359h1v1h-1zM339 359h1v1h-1zM341 359h1v1h-1zM330 360h1v1h-1zM334 360h5v1h-5zM341 360h1v1h-1zM333 361h1v1h-1zM341 361h1v1h-1zM330 362h1v1h-1zM333 362h1v1h-1zM336 362h1v1h-1zM341 362h1v1h-1zM330 363h1v1h-1zM333 363h1v1h-1zM336 363h1v1h-1zM341 363h1v1h-1zM329 364h12v1h-12zM330 365h1v1h-1zM333 365h1v1h-1zM340 365h1v1h-1zM330 366h1v1h-1zM333 366h1v1h-1zM336 366h4v1h-4zM333 367h1v1h-1zM340 367h2v1h-2zM330 340h1v1h-1zM334 340h1v1h-1zM340 340h1v1h-1zM330 341h1v1h-1zM334 341h1v1h-1zM339 341h1v1h-1zM330 342h1v1h-1zM334 342h1v1h-1zM338 342h1v1h-1zM330 343h1v1h-1zM334 343h1v1h-1zM337 343h1v1h-1zM330 344h1v1h-1zM334 344h1v1h-1zM336 344h1v1h-1zM329 345h2v1h-2zM332 345h10v1h-10zM330 346h1v1h-1zM334 346h1v1h-1zM336 346h1v1h-1zM330 347h1v1h-1zM334 347h1v1h-1zM337 347h1v1h-1zM330 348h1v1h-1zM334 348h1v1h-1zM338 348h1v1h-1zM330 349h1v1h-1zM334 349h1v1h-1zM339 349h1v1h-1zM330 350h1v1h-1zM340 350h1v1h-1zM330 351h10v1h-10zM340 352h2v1h-2zM335 325h1v1h-1zM341 325h1v1h-1zM333 326h2v1h-2zM341 326h1v1h-1zM330 327h1v1h-1zM332 327h1v1h-1zM334 327h1v1h-1zM336 327h2v1h-2zM340 327h1v1h-1zM331 328h1v1h-1zM334 328h1v1h-1zM336 328h1v1h-1zM338 328h1v1h-1zM340 328h1v1h-1zM329 329h1v1h-1zM332 329h1v1h-1zM334 329h1v1h-1zM336 329h1v1h-1zM339 329h1v1h-1zM330 330h1v1h-1zM332 330h2v1h-2zM335 330h2v1h-2zM338 330h1v1h-1zM340 330h1v1h-1zM331 331h1v1h-1zM334 331h2v1h-2zM337 331h1v1h-1zM340 331h1v1h-1zM330 332h1v1h-1zM335 332h1v1h-1zM338 332h1v1h-1zM341 332h1v1h-1zM335 333h1v1h-1zM338 333h1v1h-1zM341 333h1v1h-1zM331 334h1v1h-1zM329 335h1v1h-1zM332 335h10v1h-10zM330 336h1v1h-1zM334 336h1v1h-1zM331 337h1v1h-1zM335 337h1v1h-1zM330 378h1v1h-1zM331 379h2v1h-2zM333 380h2v1h-2zM335 381h1v1h-1zM336 382h2v1h-2zM338 383h2v1h-2zM340 384h1v1h-1z" fill="#000"/><text transform="translate(341,390.5) rotate(-90) scale(1,1.1)" text-anchor="middle" class="t">9</text><text transform="translate(341,374.0) rotate(-90) scale(1,1.1)" text-anchor="middle" class="t">8</text></g>
<g role="img" aria-label="夕食後"><path d="M362 357h3v1h-3zM362 358h1v1h-1zM365 358h2v1h-2zM362 359h1v1h-1zM367 359h1v1h-1zM362 360h1v1h-1zM368 360h1v1h-1zM362 361h1v1h-1zM367 361h1v1h-1zM369 361h1v1h-1zM360 362h3v1h-3zM366 362h1v1h-1zM370 362h1v1h-1zM362 363h1v1h-1zM366 363h1v1h-1zM371 363h1v1h-1zM363 364h1v1h-1zM371 364h1v1h-1zM364 365h1v1h-1zM372 365h1v1h-1zM365 366h1v1h-1zM372 366h1v1h-1zM365 367h1v1h-1zM372 367h1v1h-1zM364 341h1v1h-1zM364 342h1v1h-1zM372 342h1v1h-1zM363 343h1v1h-1zM369 343h1v1h-1zM372 343h1v1h-1zM363 344h6v1h-6zM370 344h2v1h-2zM362 345h1v1h-1zM364 345h1v1h-1zM366 345h1v1h-1zM368 345h1v1h-1zM371 345h1v1h-1zM361 346h1v1h-1zM364 346h1v1h-1zM366 346h1v1h-1zM368 346h1v1h-1zM370 346h1v1h-1zM360 347h1v1h-1zM362 347h3v1h-3zM366 347h1v1h-1zM368 347h2v1h-2zM371 347h1v1h-1zM361 348h1v1h-1zM364 348h1v1h-1zM366 348h1v1h-1zM368 348h1v1h-1zM371 348h1v1h-1zM362 349h1v1h-1zM364 349h1v1h-1zM366 349h1v1h-1zM368 349h1v1h-1zM371 349h1v1h-1zM363 350h10v1h-10zM363 351h1v1h-1zM372 351h1v1h-1zM364 352h1v1h-1zM372 352h1v1h-1zM364 353h1v1h-1zM366 326h1v1h-1zM372 326h1v1h-1zM364 327h2v1h-2zM372 327h1v1h-1zM361 328h1v1h-1zM363 328h1v1h-1zM365 328h1v1h-1zM367 328h2v1h-2zM371 328h1v1h-1zM362 329h1v1h-1zM365 329h1v1h-1zM367 329h1v1h-1zM369 329h1v1h-1zM371 329h1v1h-1zM360 330h1v1h-1zM363 330h1v1h-1zM365 330h1v1h-1zM367 330h1v1h-1zM370 330h1v1h-1zM361 331h1v1h-1zM363 331h2v1h-2zM366 331h2v1h-2zM369 331h1v1h-1zM371 331h1v1h-1zM362 332h1v1h-1zM365 332h2v1h-2zM368 332h1v1h-1zM371 332h1v1h-1zM361 333h1v1h-1zM366 333h1v1h-1zM369 333h1v1h-1zM372 333h1v1h-1zM366 334h1v1h-1zM369 334h1v1h-1zM372 334h1v1h-1zM362 335h1v1h-1zM360 336h1v1h-1zM363 336h10v1h-10zM361 337h1v1h-1zM365 337h1v1h-1zM362 338h1v1h-1zM366 338h1v1h-1z" fill="#000"/></g>
<g role="img" aria-label="9/9起床後"><path d="M404 355h1v1h-1zM393 356h5v1h-5zM401 356h2v1h-2zM404 356h1v1h-1zM393 357h1v1h-1zM397 357h1v1h-1zM402 357h1v1h-1zM404 357h1v1h-1zM393 358h1v1h-1zM397 358h1v1h-1zM402 358h1v1h-1zM404 358h1v1h-1zM393 359h1v1h-1zM397 359h1v1h-1zM402 359h1v1h-1zM404 359h1v1h-1zM393 360h1v1h-1zM397 360h5v1h-5zM404 360h1v1h-1zM396 361h1v1h-1zM404 361h1v1h-1zM393 362h1v1h-1zM396 362h1v1h-1zM399 362h1v1h-1zM404 362h1v1h-1zM393 363h1v1h-1zM396 363h1v1h-1zM399 363h1v1h-1zM404 363h1v1h-1zM392 364h12v1h-12zM393 365h1v1h-1zM396 365h1v1h-1zM403 365h1v1h-1zM393 366h1v1h-1zM396 366h1v1h-1zM399 366h4v1h-4zM396 367h1v1h-1zM403 367h2v1h-2zM393 340h1v1h-1zM397 340h1v1h-1zM403 340h1v1h-1zM393 341h1v1h-1zM397 341h1v1h-1zM402 341h1v1h-1zM393 342h1v1h-1zM397 342h1v1h-1zM401 342h1v1h-1zM393 343h1v1h-1zM397 343h1v1h-1zM400 343h1v1h-1zM393 344h1v1h-1zM397 344h1v1h-1zM399 344h1v1h-1zM392 345h2v1h-2zM395 345h10v1h-10zM393 346h1v1h-1zM397 346h1v1h-1zM399 346h1v1h-1zM393 347h1v1h-1zM397 347h1v1h-1zM400 347h1v1h-1zM393 348h1v1h-1zM397 348h1v1h-1zM401 348h1v1h-1zM393 349h1v1h-1zM397 349h1v1h-1zM402 349h1v1h-1zM393 350h1v1h-1zM403 350h1v1h-1zM393 351h10v1h-10zM403 352h2v1h-2zM398 325h1v1h-1zM404 325h1v1h-1zM396 326h2v1h-2zM404 326h1v1h-1zM393 327h1v1h-1zM395 327h1v1h-1zM397 327h1v1h-1zM399 327h2v1h-2zM403 327h1v1h-1zM394 328h1v1h-1zM397 328h1v1h-1zM399 328h1v1h-1zM401 328h1v1h-1zM403 328h1v1h-1zM392 329h1v1h-1zM395 329h1v1h-1zM397 329h1v1h-1zM399 329h1v1h-1zM402 329h1v1h-1zM393 330h1v1h-1zM395 330h2v1h-2zM398 330h2v1h-2zM401 330h1v1h-1zM403 330h1v1h-1zM394 331h1v1h-1zM397 331h2v1h-2zM400 331h1v1h-1zM403 331h1v1h-1zM393 332h1v1h-1zM398 332h1v1h-1zM401 332h1v1h-1zM404 332h1v1h-1zM398 333h1v1h-1zM401 333h1v1h-1zM404 333h1v1h-1zM394 334h1v1h-1zM392 335h1v1h-1zM395 335h10v1h-10zM393 336h1v1h-1zM397 336h1v1h-1zM394 337h1v1h-1zM398 337h1v1h-1zM393 378h1v1h-1zM394 379h2v1h-2zM396 380h2v1h-2zM398 381h1v1h-1zM399 382h2v1h-2zM401 383h2v1h-2zM403 384h1v1h-1z" fill="#000"/><text transform="translate(404,390.5) rotate(-90) scale(1,1.1)" text-anchor="middle" class="t">9</text><text transform="translate(404,374.0) rotate(-90) scale(1,1.1)" text-anchor="middle" class="t">9</text></g>
<g role="img" aria-label="夕食後"><path d="M425 357h3v1h-3zM425 358h1v1h-1zM428 358h2v1h-2zM425 359h1v1h-1zM430 359h1v1h-1zM425 360h1v1h-1zM431 360h1v1h-1zM425 361h1v1h-1zM430 361h1v1h-1zM432 361h1v1h-1zM423 362h3v1h-3zM429 362h1v1h-1zM433 362h1v1h-1zM425 363h1v1h-1zM429 363h1v1h-1zM434 363h1v1h-1zM426 364h1v1h-1zM434 364h1v1h-1zM427 365h1v1h-1zM435 365h1v1h-1zM428 366h1v1h-1zM435 366h1v1h-1zM428 367h1v1h-1zM435 367h1v1h-1zM427 341h1v1h-1zM427 342h1v1h-1zM435 342h1v1h-1zM426 343h1v1h-1zM432 343h1v1h-1zM435 343h1v1h-1zM426 344h6v1h-6zM433 344h2v1h-2zM425 345h1v1h-1zM427 345h1v1h-1zM429 345h1v1h-1zM431 345h1v1h-1zM434 345h1v1h-1zM424 346h1v1h-1zM427 346h1v1h-1zM429 346h1v1h-1zM431 346h1v1h-1zM433 346h1v1h-1zM423 347h1v1h-1zM425 347h3v1h-3zM429 347h1v1h-1zM431 347h2v1h-2zM434 347h1v1h-1zM424 348h1v1h-1zM427 348h1v1h-1zM429 348h1v1h-1zM431 348h1v1h-1zM434 348h1v1h-1zM425 349h1v1h-1zM427 349h1v1h-1zM429 349h1v1h-1zM431 349h1v1h-1zM434 349h1v1h-1zM426 350h10v1h-10zM426 351h1v1h-1zM435 351h1v1h-1zM427 352h1v1h-1zM435 352h1v1h-1zM427 353h1v1h-1zM429 326h1v1h-1zM435 326h1v1h-1zM427 327h2v1h-2zM435 327h1v1h-1zM424 328h1v1h-1zM426 328h1v1h-1zM428 328h1v1h-1zM430 328h2v1h-2zM434 328h1v1h-1zM425 329h1v1h-1zM428 329h1v1h-1zM430 329h1v1h-1zM432 329h1v1h-1zM434 329h1v1h-1zM423 330h1v1h-1zM426 330h1v1h-1zM428 330h1v1h-1zM430 330h1v1h-1zM433 330h1v1h-1zM424 331h1v1h-1zM426 331h2v1h-2zM429 331h2v1h-2zM432 331h1v1h-1zM434 331h1v1h-1zM425 332h1v1h-1zM428 332h2v1h-2zM431 332h1v1h-1zM434 332h1v1h-1zM424 333h1v1h-1zM429 333h1v1h-1zM432 333h1v1h-1zM435 333h1v1h-1zM429 334h1v1h-1zM432 334h1v1h-1zM435 334h1v1h-1zM425 335h1v1h-1zM423 336h1v1h-1zM426 336h10v1h-10zM424 337h1v1h-1zM428 337h1v1h-1zM425 338h1v1h-1zM429 338h1v1h-1z" fill="#000"/></g>
<g role="img" aria-label="9/10起床後"><path d="M466 354h1v1h-1zM455 355h5v1h-5zM463 355h2v1h-2zM466 355h1v1h-1zM455 356h1v1h-1zM459 356h1v1h-1zM464 356h1v1h-1zM466 356h1v1h-1zM455 357h1v1h-1zM459 357h1v1h-1zM464 357h1v1h-1zM466 357h1v1h-1zM455 358h1v1h-1zM459 358h1v1h-1zM464 358h1v1h-1zM466 358h1v1h-1zM455 359h1v1h-1zM459 359h5v1h-5zM466 359h1v1h-1zM458 360h1v1h-1zM466 360h1v1h-1zM455 361h1v1h-1zM458 361h1v1h-1zM461 361h1v1h-1zM466 361h1v1h-1zM455 362h1v1h-1zM458 362h1v1h-1zM461 362h1v1h-1zM466 362h1v1h-1zM454 363h12v1h-12zM455 364h1v1h-1zM458 364h1v1h-1zM465 364h1v1h-1zM455 365h1v1h-1zM458 365h1v1h-1zM461 365h4v1h-4zM458 366h1v1h-1zM465 366h2v1h-2zM455 339h1v1h-1zM459 339h1v1h-1zM465 339h1v1h-1zM455 340h1v1h-1zM459 340h1v1h-1zM464 340h1v1h-1zM455 341h1v1h-1zM459 341h1v1h-1zM463 341h1v1h-1zM455 342h1v1h-1zM459 342h1v1h-1zM462 342h1v1h-1zM455 343h1v1h-1zM459 343h1v1h-1zM461 343h1v1h-1zM454 344h2v1h-2zM457 344h10v1h-10zM455 345h1v1h-1zM459 345h1v1h-1zM461 345h1v1h-1zM455 346h1v1h-1zM459 346h1v1h-1zM462 346h1v1h-1zM455 347h1v1h-1zM459 347h1v1h-1zM463 347h1v1h-1zM455 348h1v1h-1zM459 348h1v1h-1zM464 348h1v1h-1zM455 349h1v1h-1zM465 349h1v1h-1zM455 350h10v1h-10zM465 351h2v1h-2zM460 324h1v1h-1zM466 324h1v1h-1zM458 325h2v1h-2zM466 325h1v1h-1zM455 326h1v1h-1zM457 326h1v1h-1zM459 326h1v1h-1zM461 326h2v1h-2zM465 326h1v1h-1zM456 327h1v1h-1zM459 327h1v1h-1zM461 327h1v1h-1zM463 327h1v1h-1zM465 327h1v1h-1zM454 328h1v1h-1zM457 328h1v1h-1zM459 328h1v1h-1zM461 328h1v1h-1zM464 328h1v1h-1zM455 329h1v1h-1zM457 329h2v1h-2zM460 329h2v1h-2zM463 329h1v1h-1zM465 329h1v1h-1zM456 330h1v1h-1zM459 330h2v1h-2zM462 330h1v1h-1zM465 330h1v1h-1zM455 331h1v1h-1zM460 331h1v1h-1zM463 331h1v1h-1zM466 331h1v1h-1zM460 332h1v1h-1zM463 332h1v1h-1zM466 332h1v1h-1zM456 333h1v1h-1zM454 334h1v1h-1zM457 334h10v1h-10zM455 335h1v1h-1zM459 335h1v1h-1zM456 336h1v1h-1zM460 336h1v1h-1zM455 385h1v1h-1zM456 386h2v1h-2zM458 387h2v1h-2zM460 388h1v1h-1zM461 389h2v1h-2zM463 390h2v1h-2zM465 391h1v1h-1z" fill="#000"/><text transform="translate(466,397.5) rotate(-90) scale(1,1.1)" text-anchor="middle" class="t">9</text><text transform="translate(466,381.5) rotate(-90) scale(1,1.1)" text-anchor="middle" class="t" clip-path="url(#nb)">1</text><text transform="translate(466,372.5) rotate(-90) scale(1,1.1)" text-anchor="middle" class="t">0</text></g>
<g role="img" aria-label="夕食後"><path d="M488 357h3v1h-3zM488 358h1v1h-1zM491 358h2v1h-2zM488 359h1v1h-1zM493 359h1v1h-1zM488 360h1v1h-1zM494 360h1v1h-1zM488 361h1v1h-1zM493 361h1v1h-1zM495 361h1v1h-1zM486 362h3v1h-3zM492 362h1v1h-1zM496 362h1v1h-1zM488 363h1v1h-1zM492 363h1v1h-1zM497 363h1v1h-1zM489 364h1v1h-1zM497 364h1v1h-1zM490 365h1v1h-1zM498 365h1v1h-1zM491 366h1v1h-1zM498 366h1v1h-1zM491 367h1v1h-1zM498 367h1v1h-1zM490 341h1v1h-1zM490 342h1v1h-1zM498 342h1v1h-1zM489 343h1v1h-1zM495 343h1v1h-1zM498 343h1v1h-1zM489 344h6v1h-6zM496 344h2v1h-2zM488 345h1v1h-1zM490 345h1v1h-1zM492 345h1v1h-1zM494 345h1v1h-1zM497 345h1v1h-1zM487 346h1v1h-1zM490 346h1v1h-1zM492 346h1v1h-1zM494 346h1v1h-1zM496 346h1v1h-1zM486 347h1v1h-1zM488 347h3v1h-3zM492 347h1v1h-1zM494 347h2v1h-2zM497 347h1v1h-1zM487 348h1v1h-1zM490 348h1v1h-1zM492 348h1v1h-1zM494 348h1v1h-1zM497 348h1v1h-1zM488 349h1v1h-1zM490 349h1v1h-1zM492 349h1v1h-1zM494 349h1v1h-1zM497 349h1v1h-1zM489 350h10v1h-10zM489 351h1v1h-1zM498 351h1v1h-1zM490 352h1v1h-1zM498 352h1v1h-1zM490 353h1v1h-1zM492 326h1v1h-1zM498 326h1v1h-1zM490 327h2v1h-2zM498 327h1v1h-1zM487 328h1v1h-1zM489 328h1v1h-1zM491 328h1v1h-1zM493 328h2v1h-2zM497 328h1v1h-1zM488 329h1v1h-1zM491 329h1v1h-1zM493 329h1v1h-1zM495 329h1v1h-1zM497 329h1v1h-1zM486 330h1v1h-1zM489 330h1v1h-1zM491 330h1v1h-1zM493 330h1v1h-1zM496 330h1v1h-1zM487 331h1v1h-1zM489 331h2v1h-2zM492 331h2v1h-2zM495 331h1v1h-1zM497 331h1v1h-1zM488 332h1v1h-1zM491 332h2v1h-2zM494 332h1v1h-1zM497 332h1v1h-1zM487 333h1v1h-1zM492 333h1v1h-1zM495 333h1v1h-1zM498 333h1v1h-1zM492 334h1v1h-1zM495 334h1v1h-1zM498 334h1v1h-1zM488 335h1v1h-1zM486 336h1v1h-1zM489 336h10v1h-10zM487 337h1v1h-1zM491 337h1v1h-1zM488 338h1v1h-1zM492 338h1v1h-1z" fill="#000"/></g>
</svg>
</body></html>
